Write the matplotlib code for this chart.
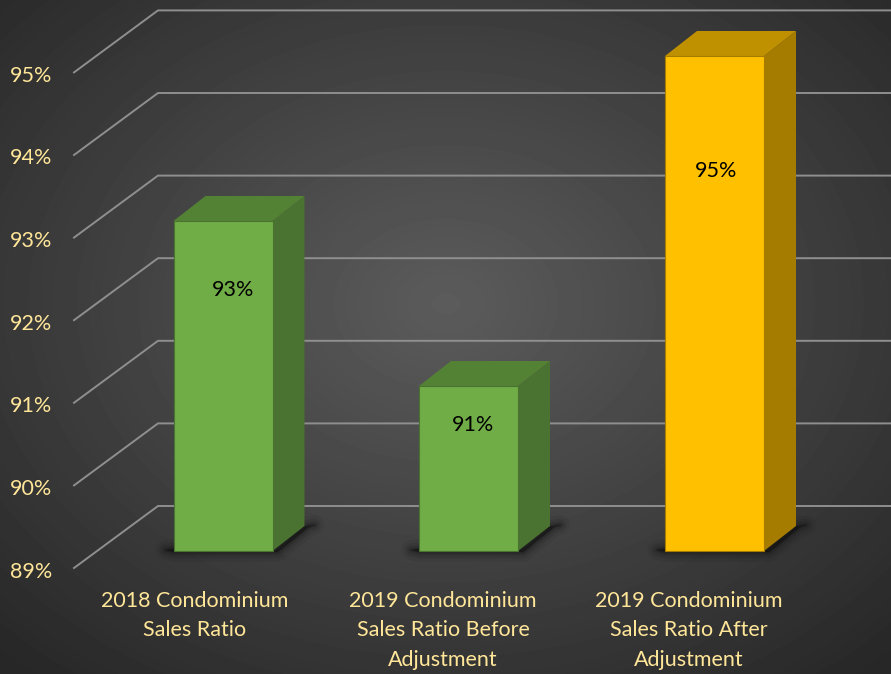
import numpy as np
import matplotlib
matplotlib.use('Agg')
import matplotlib.pyplot as plt
from matplotlib.patches import Polygon

W, H = 891, 674
categories = ['2018 Condominium\nSales Ratio', '2019 Condominium\nSales Ratio Before\nAdjustment', '2019 Condominium\nSales Ratio After\nAdjustment']
values = [93, 91, 95]
labels = ['93%', '91%', '95%']
ticks = [89, 90, 91, 92, 93, 94, 95]
face = ['#70AD47', '#70AD47', '#FFC000']
top = ['#548235', '#548235', '#BF9000']
side = ['#4A7230', '#4A7230', '#A67C00']

plt.rcParams['font.family'] = ['Lato', 'DejaVu Sans']
fig = plt.figure(figsize=(W/100, H/100), dpi=100)

bg = fig.add_axes([0, 0, 1, 1], zorder=0)
bg.axis('off')
yy, xx = np.mgrid[0:H, 0:W]
r = np.sqrt(((xx-W*0.5)/(W*0.72))**2 + ((yy-H*0.45)/(H*0.72))**2)
r = np.clip(r, 0, 1)
g = 0.36 - (0.36-0.155)*r
bg.imshow(g, cmap='gray', vmin=0, vmax=1, aspect='auto', extent=[0, W, H, 0])

ax = fig.add_axes([0, 0, 1, 1], zorder=1)
ax.set_xlim(0, W)
ax.set_ylim(H, 0)
ax.axis('off')
ax.patch.set_alpha(0)

x0, x1 = 74, 158
y89, ystep = 568.0, 82.6
dy = -62
def ypos(v):
    return y89 - (v-89)*ystep

for t in ticks:
    y = ypos(t)
    ax.plot([x0, x1, W], [y, y+dy, y+dy], color='#8F8F8F', lw=1.4, zorder=1)
    ax.text(52, y+3.5, f'{t}%', color='#FFE699', ha='right', va='center', fontsize=15.5)

lefts = [173.5, 419, 665]
bw = 99
dx3, dy3 = 32, -25
base = 551
unit = 82.5
label_x = [233, 473, 716]
label_y = [290, 425, 171]
cat_x = [195, 443, 689]
for i, v in enumerate(values):
    l = lefts[i]; r_ = l+bw
    t = base - (v-89)*unit
    shadow = [(l-8, base-1), (r_+42, base-26), (r_+36, base-24), (r_+5, base+1), (l, base+1)]
    for lw, a in zip([14, 9, 5, 2], [0.07, 0.10, 0.14, 0.22]):
        ax.add_patch(Polygon(shadow, closed=True, fc='#0a0a0a', ec='#0a0a0a', alpha=a, lw=lw, joinstyle='round', zorder=2))
    ax.add_patch(Polygon([(r_, t), (r_+dx3, t+dy3), (r_+dx3, base+dy3), (r_, base)], closed=True, fc=side[i], ec='none', zorder=3))
    ax.add_patch(Polygon([(l, t), (l+dx3, t+dy3), (r_+dx3, t+dy3), (r_, t)], closed=True, fc=top[i], ec='none', zorder=3))
    ax.add_patch(Polygon([(l, t), (r_, t), (r_, base), (l, base)], closed=True, fc=face[i], ec=side[i], lw=0.8, zorder=4))
    ax.text(label_x[i], label_y[i], labels[i], color='black', ha='center', va='center', fontsize=15.5, zorder=5)
    for j, line in enumerate(categories[i].split('\n')):
        ax.text(cat_x[i], 601+j*29.5, line, color='#FFE699', ha='center', va='center', fontsize=15.5, zorder=5)

fig.savefig('out.png', dpi=100)
